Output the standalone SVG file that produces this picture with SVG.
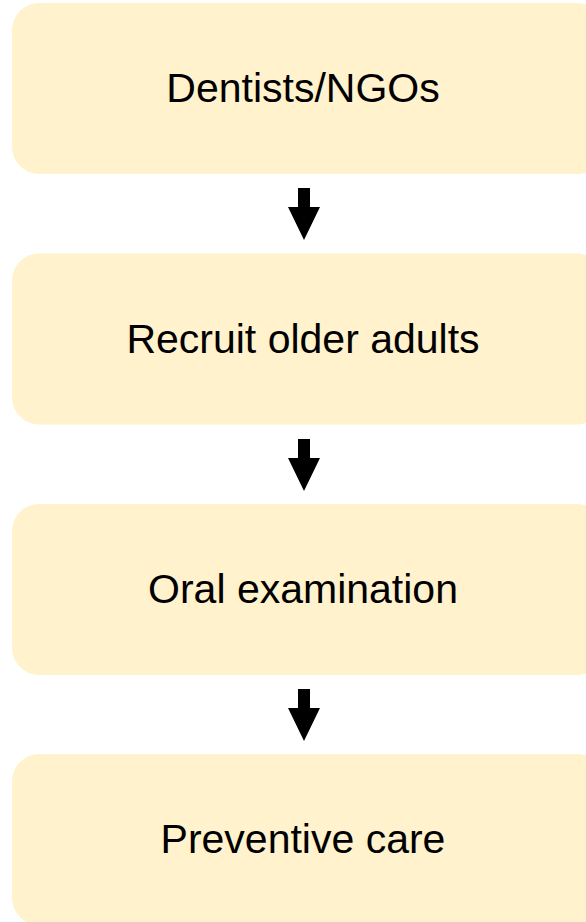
<svg xmlns="http://www.w3.org/2000/svg" width="586" height="922" viewBox="0 0 586 922">
<style>
.box{fill:#FFF2CC;}
.lbl{font-family:"Liberation Sans",Arial,sans-serif;font-size:41px;fill:#000;text-anchor:middle;}
.arr{fill:#000;}
</style>
<rect width="586" height="922" fill="#fff"/>
<g id="node1"><rect class="box" x="12" y="3" width="592" height="171" rx="27"/><text class="lbl" x="303" y="102">Dentists/NGOs</text></g>
<g id="node2"><rect class="box" x="12" y="253.5" width="592" height="171" rx="27"/><text class="lbl" x="303" y="352.5">Recruit older adults</text></g>
<g id="node3"><rect class="box" x="12" y="504" width="592" height="171" rx="27"/><text class="lbl" x="303" y="603">Oral examination</text></g>
<g id="node4"><rect class="box" x="12" y="754" width="592" height="171" rx="27"/><text class="lbl" x="303" y="853">Preventive care</text></g>
<g id="connectors">
<polygon class="arr" points="298,188 310,188 310,207 320,207 304,240 288,207 298,207"/>
<polygon class="arr" points="298,439 310,439 310,458 320,458 304,491 288,458 298,458"/>
<polygon class="arr" points="298,689 310,689 310,708 320,708 304,741 288,708 298,708"/>
</g>
</svg>
